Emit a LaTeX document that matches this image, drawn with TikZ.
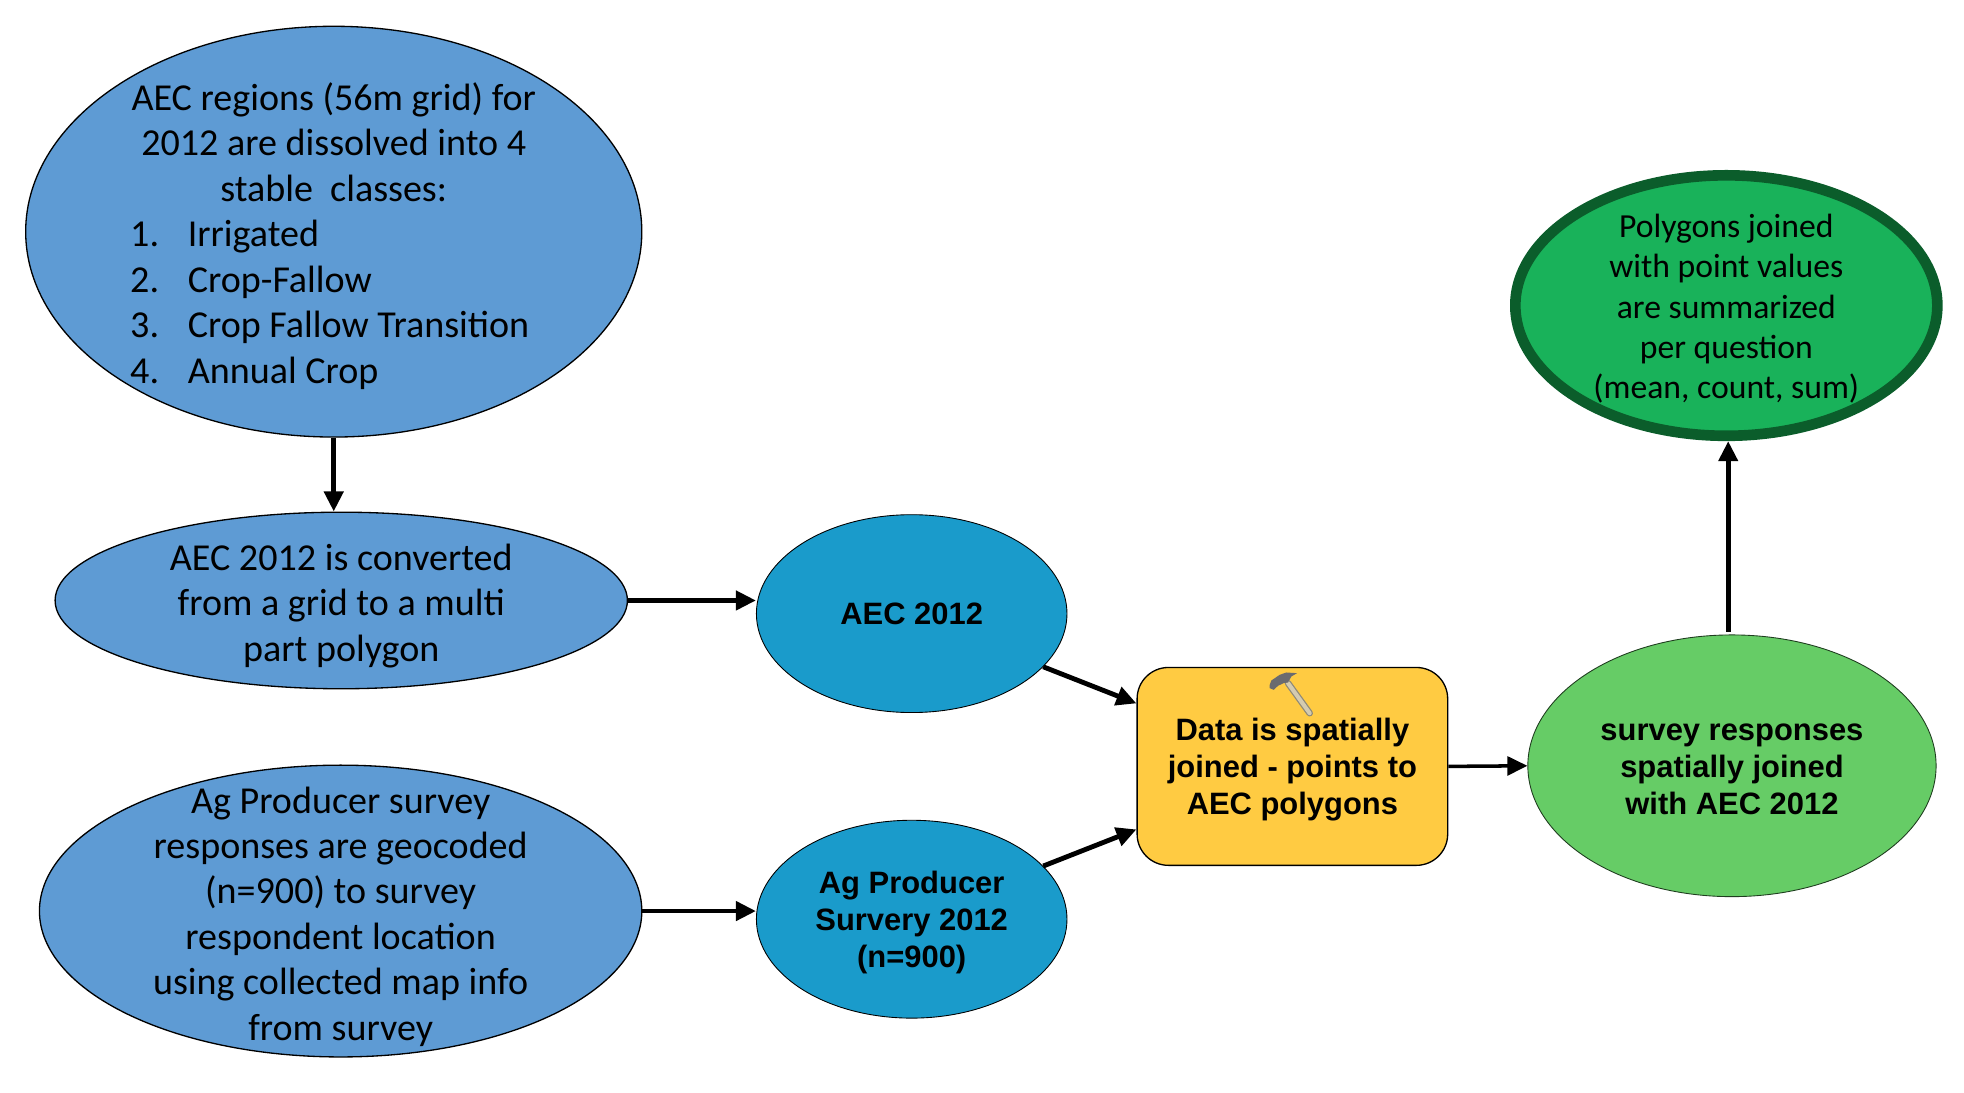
\documentclass[tikz,border=0pt]{standalone}
\usepackage{fontspec}
\setmainfont{Carlito}
\newfontfamily\boldface{Liberation Sans}
\usetikzlibrary{shapes.geometric,arrows.meta}

\newcommand{\classrow}[2]{\makebox[6.5cm][l]{\makebox[.92cm][l]{#1}#2}}
\newcommand{\lowered}[1]{\rule{0pt}{#1pt}}

\tikzset{
    region/.style={ellipse,draw=black,line width=.6pt,fill=regionblue,inner sep=0pt,inner ysep=-1cm,align=center,
        font=\fontsize{17.3}{20.65}\selectfont},
    boldtext/.style={font=\boldface\bfseries\fontsize{14.05}{16.8}\selectfont},
    dataset/.style={ellipse,draw=black,line width=.4pt,fill=datablue,inner sep=0pt,align=center,
        minimum width=4.96cm,minimum height=3.16cm,boldtext},
    flow/.style={-{Triangle[length=.32cm,width=.3cm]},line width=2.2pt,black},
}
\definecolor{regionblue}{HTML}{5E9BD4}
\definecolor{datablue}{HTML}{1A9BCB}
\definecolor{toolyellow}{HTML}{FFCB42}
\definecolor{joingreen}{HTML}{66CC66}
\definecolor{summarygreen}{HTML}{19B25A}
\definecolor{summaryedge}{HTML}{0B5D2B}
\definecolor{handleedge}{HTML}{8F8A78}
\definecolor{handlewood}{HTML}{D4CBB0}
\definecolor{hammerhead}{HTML}{6B6B6F}

\begin{document}
\begin{tikzpicture}
    \useasboundingbox (0,0) rectangle (31.366,17.44);

    \node[region,minimum width=9.84cm,minimum height=6.56cm] (classes) at (5.33,13.74)
        {\lowered{16.5}AEC regions (56m grid) for\\2012 are dissolved into 4\\stable\ \ classes:\\
         \classrow{1.}{Irrigated}\\\classrow{2.}{Crop-Fallow}\\
         \classrow{3.}{Crop Fallow Transition}\\\classrow{4.}{Annual Crop}};
    \node[region,minimum width=9.14cm,minimum height=2.82cm] (polygon) at (5.45,7.85)
        {\lowered{17}AEC 2012 is converted\\from a grid to a multi\\part polygon};
    \node[region,minimum width=9.62cm,minimum height=4.66cm] (geocode) at (5.44,2.89)
        {\lowered{17}Ag Producer survey\\responses are geocoded\\(n=900) to survey\\respondent location\\using collected map info\\from survey};

    \node[dataset] (aec) at (14.56,7.64) {AEC 2012};
    \node[dataset] (survey) at (14.56,2.76) {\lowered{12.8}Ag Producer\\Survery 2012\\(n=900)};

    \node[draw=black,line width=.6pt,fill=toolyellow,rounded corners=.5cm,minimum width=4.96cm,
        minimum height=3.16cm,inner sep=0pt,align=center,boldtext] (join) at (20.64,5.2)
        {\lowered{12.8}Data is spatially\\joined - points to\\AEC polygons};
    \node[ellipse,draw=black!70!joingreen,line width=.4pt,fill=joingreen,minimum width=6.52cm,minimum height=4.18cm,
        inner sep=0pt,align=center,boldtext] (joined) at (27.66,5.21)
        {\lowered{10.6}survey responses\\spatially joined\\with AEC 2012};
    \node[ellipse,draw=summaryedge,line width=.17cm,fill=summarygreen,minimum width=6.74cm,minimum height=4.16cm,
        inner sep=0pt,inner ysep=-1cm,align=center,font=\fontsize{15.3}{18.35}\selectfont] (summary) at (27.57,12.56)
        {\lowered{13.5}Polygons joined\\with point values\\are summarized\\per question\\(mean, count, sum)};

    % hammer on the tool
    \draw[line width=.105cm,draw=handleedge,line cap=round] (20.57,6.53) -- (20.916,6.05);
    \draw[line width=.065cm,draw=handlewood,line cap=round] (20.57,6.53) -- (20.916,6.05);
    \fill[hammerhead] (20.278,6.503) -- (20.304,6.572) -- (20.437,6.663) -- (20.544,6.7) -- (20.714,6.689) -- (20.623,6.636)
        -- (20.57,6.54) -- (20.5,6.53) -- (20.41,6.487) -- (20.341,6.423) -- (20.278,6.45) -- cycle;

    \draw[flow] (classes.south) -- (classes.south |- polygon.north);
    \draw[flow] (polygon.east) -- (aec.west |- polygon.east);
    \draw[flow] (geocode.east) -- (survey.west |- geocode.east);
    \draw[flow] (aec.-22) -- (join.158);
    \draw[flow] (survey.22) -- (join.202);
    \draw[flow,line width=1.6pt] (join.east) -- (joined.west);
    \draw[flow] ([xshift=-.06cm,yshift=.04cm]joined.north) -- ([xshift=.03cm]summary.south);
\end{tikzpicture}
\end{document}
